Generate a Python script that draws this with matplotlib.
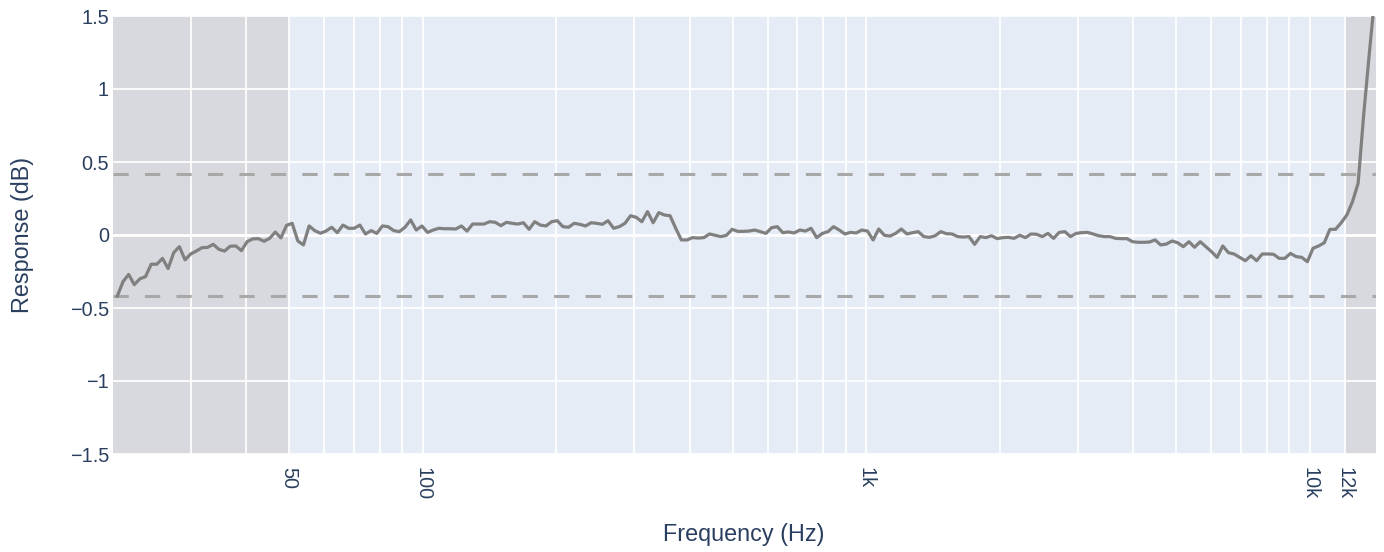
import numpy as np
import matplotlib
matplotlib.use("Agg")
import matplotlib.pyplot as plt
from matplotlib.ticker import NullLocator

plt.rcParams['font.family'] = ['Liberation Sans', 'DejaVu Sans']

# ---- data ----
FREQ_FIRST_HZ = 20.5
FREQ_LAST_HZ = 14050.0

response_db = [
    -0.418, -0.32, -0.27, -0.34, -0.30, -0.285, -0.20, -0.20, -0.16, -0.23,
    -0.12, -0.08, -0.17, -0.13, -0.11, -0.087, -0.085, -0.064, -0.098, -0.11,
    -0.077, -0.075, -0.107, -0.046, -0.027, -0.025, -0.043, -0.023, 0.02, -0.02,
    0.066, 0.08, -0.041, -0.068, 0.062, 0.03, 0.012, 0.027,
    0.053, 0.016, 0.068, 0.046, 0.046, 0.068, 0.007, 0.030, 0.011, 0.062,
    0.057, 0.030, 0.023, 0.053, 0.103, 0.034, 0.062, 0.018, 0.034, 0.046,
    0.043, 0.043, 0.041, 0.062, 0.027, 0.075, 0.075, 0.075, 0.091, 0.087,
    0.064, 0.087, 0.080, 0.075, 0.084, 0.039, 0.091, 0.068,
    0.062, 0.091, 0.098, 0.057, 0.053, 0.080, 0.073, 0.062, 0.084, 0.080,
    0.073, 0.098, 0.046, 0.057, 0.080, 0.132, 0.121, 0.091, 0.160, 0.084,
    0.153, 0.137, 0.132, 0.046, -0.034, -0.034, -0.018, -0.021, -0.018, 0.007,
    -0.002, -0.011, -0.002, 0.039, 0.025, 0.025, 0.027,
    0.034, 0.023, 0.011, 0.050, 0.057, 0.016, 0.021, 0.014, 0.034, 0.027,
    0.046, -0.018, 0.011, 0.023, 0.057, 0.034, 0.007, 0.018, 0.014, 0.034,
    0.027, -0.034, 0.041, -0.002, -0.007, 0.011, 0.041, 0.007, 0.016, 0.023,
    -0.011, -0.016, -0.005, 0.023, 0.009, 0.007, -0.011,
    -0.014, -0.011, -0.064, -0.011, -0.018, -0.005, -0.025, -0.018, -0.016, -0.023,
    -0.002, -0.018, 0.007, 0.005, -0.011, 0.011, -0.023, 0.018, 0.023, -0.011,
    0.011, 0.016, 0.018, 0.007, -0.005, -0.011, -0.011, -0.023, -0.025, -0.025,
    -0.046, -0.050, -0.050, -0.048, -0.034, -0.068, -0.062,
    -0.041, -0.053, -0.080, -0.046, -0.084, -0.046, -0.080, -0.114, -0.153, -0.075,
    -0.121, -0.130, -0.153, -0.176, -0.142, -0.176, -0.130, -0.130, -0.132, -0.160,
    -0.160, -0.126, -0.148, -0.153, -0.183, -0.091, -0.075, -0.053, 0.039, 0.039,
    0.084, 0.137, 0.228, 0.354, 0.83, 1.25, 1.65,
]

# measurement frequencies: log-spaced grid between first and last point
freq_hz = np.geomspace(FREQ_FIRST_HZ, FREQ_LAST_HZ, len(response_db))

tolerance_db = [0.415, -0.415]
shade_bands = [(20, 50), (12000, 14120)]
x_range = (20, 14120)
y_range = (-1.5, 1.5)

xtick_vals = [50, 100, 1000, 10000, 12000]
xtick_labels = ["50", "100", "1k", "10k", "12k"]
ytick_vals = [-1.5, -1, -0.5, 0, 0.5, 1, 1.5]
ytick_labels = ["\u22121.5", "\u22121", "\u22120.5", "0", "0.5", "1", "1.5"]
x_grid_vals = [30, 40, 50, 60, 70, 80, 90,
               100, 200, 300, 400, 500, 600, 700, 800, 900,
               1000, 2000, 3000, 4000, 5000, 6000, 7000, 8000, 9000,
               10000, 12000]

# ---- styling ----
TEXT = '#2a3f5f'
W, H = 1384, 552
fig = plt.figure(figsize=(W / 100, H / 100), dpi=100)
L, R, T, B = 112.6, 1376, 16, 454
ax = fig.add_axes([L / W, 1 - B / H, (R - L) / W, (B - T) / H])
ax.set_facecolor('#E5ECF6')
ax.set_xscale('log')
ax.set_xlim(*x_range)
ax.set_ylim(*y_range)

for lo, hi in shade_bands:
    ax.axvspan(lo, hi, color='#D8D9DE', lw=0, zorder=0.5)

for xv in x_grid_vals:
    ax.axvline(xv, color='white', lw=1.25, zorder=1)
for yv in ytick_vals:
    ax.axhline(yv, color='white', lw=2.0 if yv == 0 else 1.25, zorder=1.1, clip_on=False)

for tv in tolerance_db:
    ax.axhline(tv, color='#A8A8A8', lw=2.2, ls=(0, (5, 5.3)), zorder=2)

ax.plot(freq_hz, response_db, color='#808080', lw=2.3, zorder=3,
        solid_joinstyle='round')

for s in ax.spines.values():
    s.set_visible(False)

ax.set_xticks(xtick_vals)
ax.set_xticklabels(xtick_labels)
ax.xaxis.set_minor_locator(NullLocator())
ax.set_yticks(ytick_vals)
ax.set_yticklabels(ytick_labels)
ax.tick_params(axis='both', length=0, labelsize=14.3, labelcolor=TEXT)
ax.tick_params(axis='x', pad=9.5)
ax.tick_params(axis='y', pad=2.6)
for lab in ax.get_xticklabels():
    lab.set_rotation(-90)
    lab.set_ha('center')
    lab.set_va('top')

fig.text(744 / W, 1 - 535 / H, 'Frequency (Hz)', ha='center', va='center',
         fontsize=16.8, color=TEXT)
fig.text(22.5 / W, 1 - 235 / H, 'Response (dB)', ha='center', va='center',
         rotation=90, fontsize=16.8, color=TEXT)

fig.savefig('out.png', dpi=100, facecolor='white')
